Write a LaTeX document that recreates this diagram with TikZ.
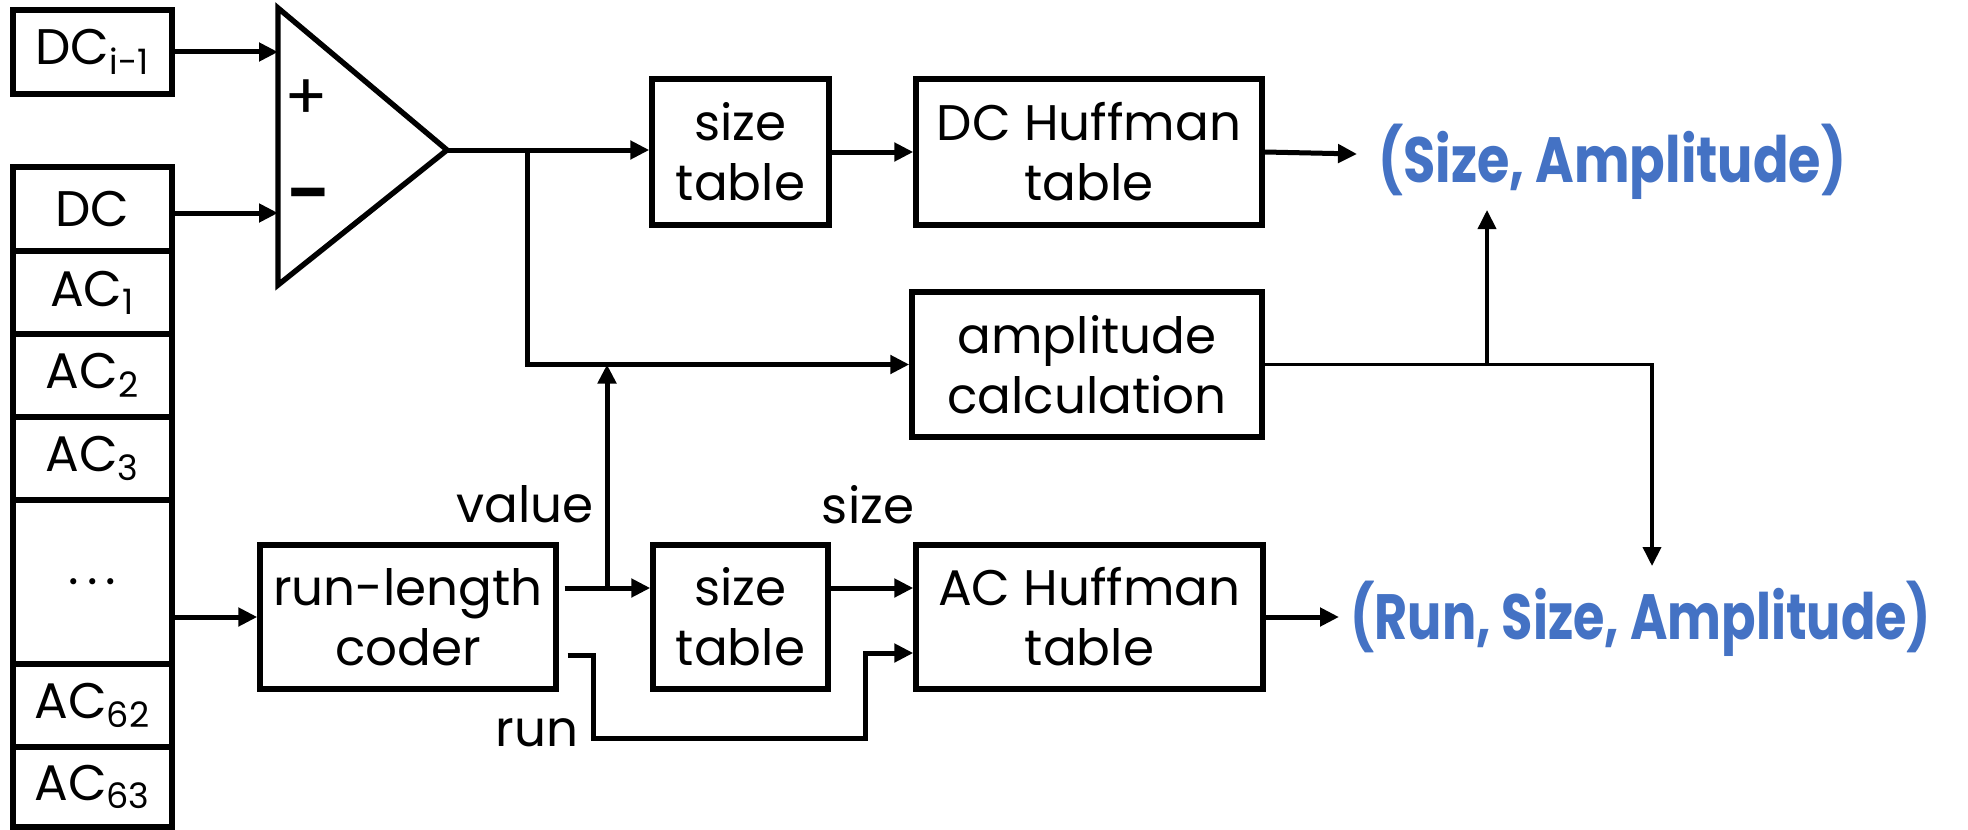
\documentclass[tikz,border=0pt]{standalone}
\usepackage{fontspec}
\setmainfont{Poppins}
\newfontfamily\outfont[FakeStretch=0.82]{Poppins}
\newfontfamily\outfontb[FakeStretch=0.795]{Poppins}
\usetikzlibrary{arrows.meta,calc}
\definecolor{outblue}{HTML}{4472C4}
\begin{document}
\begin{tikzpicture}[x=0.5pt,y=-0.5pt,
  blk/.style={draw, line width=2.7pt, inner sep=0pt, align=center, font=\fontsize{25}{30}\selectfont},
  cell/.style={blk, minimum width=79.5pt},
  arr/.style={line width=2.5pt, -{Triangle[length=9.5pt,width=9pt]}},
  tarr/.style={line width=1.9pt, -{Triangle[length=9.5pt,width=9pt]}},
  lbl/.style={font=\fontsize{25}{30}\selectfont, inner sep=0pt},
  outtxt/.style={font=\outfont\fontsize{32}{38}\selectfont\bfseries, text=outblue, inner sep=0pt}]
\useasboundingbox (0,0) rectangle (1968,829);

% inputs
\node[cell, minimum height=42pt] (dcm1) at (92.5,52) {DC\textsubscript{i-1}};
\node[cell, minimum height=42pt] (r0) at (92.5,209) {DC};
\node[cell, minimum height=41.5pt] (r1) at (92.5,292.5) {AC\textsubscript{1}};
\node[cell, minimum height=41.5pt] (r2) at (92.5,375.5) {AC\textsubscript{2}};
\node[cell, minimum height=41.5pt] (r3) at (92.5,458.5) {AC\textsubscript{3}};
\node[cell, minimum height=82pt] (r4) at (92.5,582) {.\hspace{4pt}.\hspace{4pt}.};
\node[cell, minimum height=41.5pt] (r5) at (92.5,705.5) {AC\textsubscript{62}};
\node[cell, minimum height=40pt] (r6) at (92.5,787) {AC\textsubscript{63}};

% subtractor
\coordinate (tA) at (278,8);
\coordinate (tB) at (278,285);
\coordinate (tC) at (447,150);
\draw[line width=2.7pt, line join=miter] (tA) -- (tC) -- (tB) -- cycle;
\node[lbl, font=\fontsize{32}{32}\selectfont] (plus) at (306,100) {+};
\node[lbl, font=\fontsize{30}{30}\selectfont\bfseries] (minus) at (308,201) {–};

% blocks
\node[blk, minimum width=88.5pt, minimum height=73pt] (st1) at (740.5,152) {size\\table};
\node[blk, minimum width=173pt, minimum height=73pt] (dch) at (1089,152) {DC Huffman\\table};
\node[blk, minimum width=175pt, minimum height=72.5pt] (amp) at (1087,364.5) {amplitude\\calculation};
\node[blk, minimum width=148pt, minimum height=72pt] (rlc) at (408,617) {run-length\\coder};
\node[blk, minimum width=87.5pt, minimum height=72pt] (st2) at (740.5,617) {size\\table};
\node[blk, minimum width=173.5pt, minimum height=72pt] (ach) at (1089.5,617) {AC Huffman\\table};

% outputs
\node[outtxt, anchor=west] (o1) at (1378,162) {(Size, Amplitude)};
\node[outtxt, anchor=west, font=\outfontb\fontsize{32}{38}\selectfont\bfseries] (o2) at (1350,619) {(Run, Size, Amplitude)};

% labels
\node[lbl] (lv) at (525,504) {value};
\node[lbl] (ls) at (868,505) {size};
\node[lbl] (lr) at (537,733) {run};

% connectors
\draw[arr] (dcm1.east) -- (dcm1.east -| tA);
\draw[arr] ([yshift=-2pt]r0.east) -- ([yshift=-2pt]r0.east -| tA);
\draw[arr] (tC) -- (tC -| st1.west);
\coordinate (j1) at (527,150);
\draw[arr] (j1) |- (amp.west);
\draw[arr] (st1.east) -- (dch.west);
\coordinate (o1in) at (1357,154);
\draw[arr] (dch.east) -- (o1in);

\coordinate (ja) at (1487,364.5);
\coordinate (jb) at (1652,364.5);
\coordinate (o1up) at (1487,210);
\coordinate (o2dn) at (1652,566);
\draw[tarr] (amp.east) -- (jb) -- (o2dn);
\draw[tarr] (ja) -- (o1up);

\draw[arr] (rlc.west -| r4.east) -- (rlc.west);
\coordinate (rv) at ([xshift=3pt,yshift=14.5pt]rlc.east);
\draw[arr] (rv) -- ([yshift=14.5pt]st2.west);
\coordinate (vj) at (607,586);
\draw[arr] (vj) -- (vj |- amp.west);
\draw[arr] ([yshift=14.5pt]st2.east) -- ([yshift=14.5pt]ach.west);
\coordinate (rr) at ([xshift=4.5pt,yshift=-19pt]rlc.east);
\coordinate (rb) at (593,738);
\coordinate (rc) at (865,738);
\draw[arr] (rr) -| (rb) -| (rc) |- ([yshift=-18pt]ach.west);
\draw[arr] (ach.east) -- (ach.east -| 1339,0);
\end{tikzpicture}
\end{document}
